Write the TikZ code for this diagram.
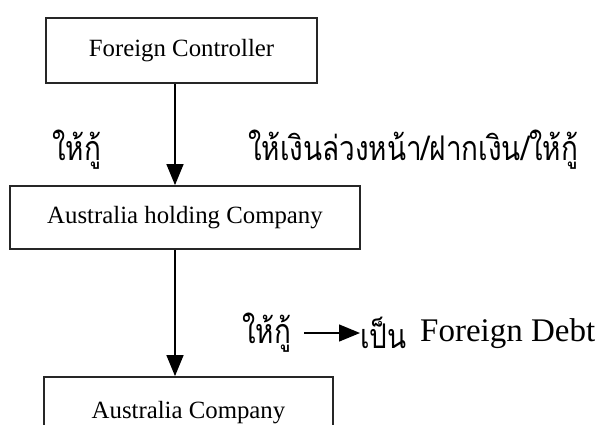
\documentclass[tikz,border=0pt]{standalone}
\usepackage{fontspec}
\setmainfont{Liberation Serif}
\newfontfamily\thaifont[Script=Thai,FakeStretch=0.82]{Loma}
\usetikzlibrary{arrows.meta}
\begin{document}
\begin{tikzpicture}[x=1pt,y=-1pt,
  box/.style={draw=black!85, line width=1.8pt, inner sep=0pt, font=\fontsize{24.8}{28}\selectfont},
  arr/.style={line width=1.4pt, -{Triangle[length=21pt,width=17pt]}},
  thai/.style={inner sep=0pt, font=\thaifont\fontsize{34}{38}\selectfont},
  eng/.style={inner sep=0pt, font=\fontsize{33}{37}\selectfont}]
\useasboundingbox (0,0) rectangle (599,424);
\clip (0,0) rectangle (599,424);
% company boxes
\node[box, minimum width=271pt, minimum height=65pt] (ctrl) at (181.5,50.5) {Foreign Controller};
\node[box, minimum width=350pt, minimum height=63pt] (hold) at (185,217.5) {Australia holding Company};
\node[box, minimum width=289pt, minimum height=72pt] (auco) at (188.5,413) {Australia Company};
% vertical flow line
\coordinate (ax) at (175,0);
\draw[arr] (ax |- ctrl.south) -- (ax |- hold.north);
\draw[arr] (ax |- hold.south) -- (ax |- auco.north);
% labels beside the first arrow
\node[thai, anchor=west] (lendA) at (52,150) {ให้กู้};
\node[thai, anchor=west] (lendB) at (248,150) {ให้เงินล่วงหน้า/ฝากเงิน/ให้กู้};
% lending becomes foreign debt
\node[thai, anchor=west] (lendC) at (242,333) {ให้กู้};
\node[thai, anchor=west] (become) at (360,333) {เป็น};
\node[eng, anchor=west] (debt) at (420,334) {Foreign Debt};
\coordinate (tail) at (304,333);
\draw[arr] (tail) -- (become.west);
\end{tikzpicture}
\end{document}
